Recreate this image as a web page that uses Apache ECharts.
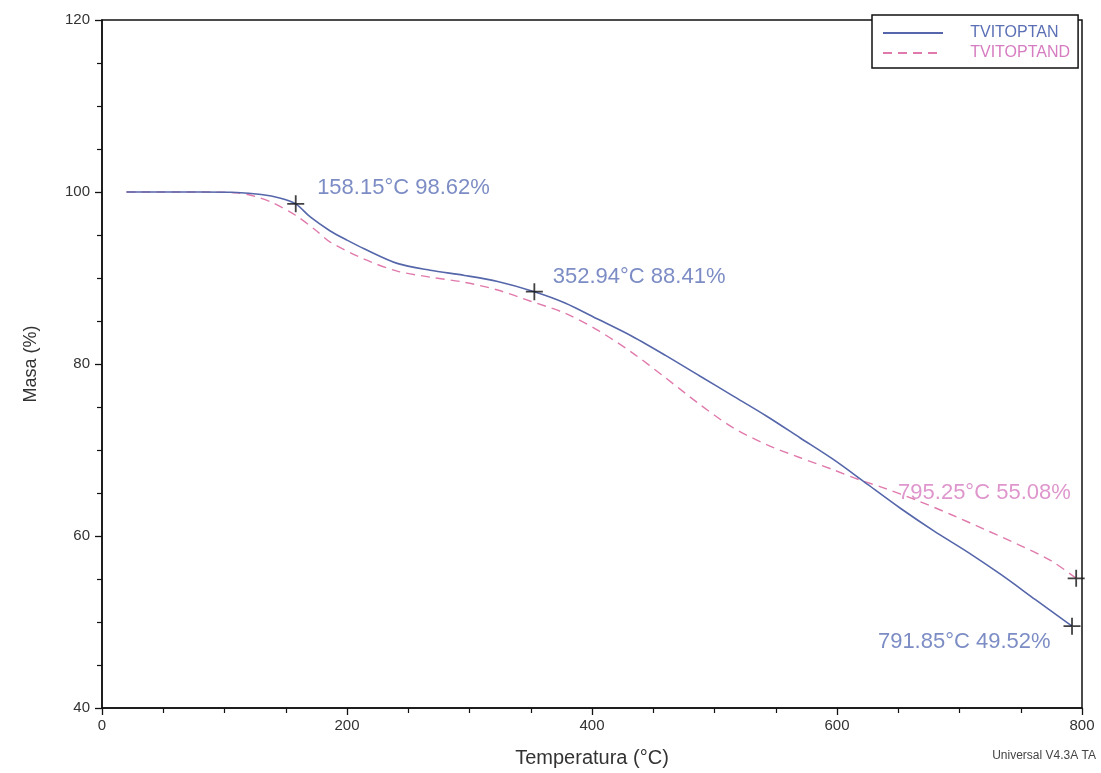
<!DOCTYPE html>
<html>
<head>
<meta charset="utf-8">
<script src="https://cdn.jsdelivr.net/npm/echarts@6/dist/echarts.min.js"></script>
<style>
html,body{margin:0;padding:0;background:#fff;}
#chart{width:1101px;height:773px;}
</style>
</head>
<body>
<div id="chart"></div>
<script>
// ---- data ----
const seriesNames = ['TVITOPTAN', 'TVITOPTAND'];
const tempA = [20, 50, 80, 110, 130, 145, 158.15, 170, 186, 200, 214, 241, 268, 296, 323, 352.94, 378, 405, 433, 460, 488, 515, 543, 570, 597, 625, 652, 679, 707, 734, 762, 791.85];
const massA = [100.0, 100.0, 100.0, 99.95, 99.7, 99.3, 98.62, 97.1, 95.5, 94.4, 93.4, 91.7, 90.9, 90.3, 89.6, 88.41, 87.1, 85.2, 83.2, 81.0, 78.6, 76.3, 73.9, 71.4, 68.9, 66.0, 63.2, 60.6, 58.1, 55.5, 52.6, 49.52];
const tempB = [20, 50, 80, 110, 125, 140, 158, 175, 186, 214, 241, 268, 296, 323, 350, 378, 405, 433, 460, 488, 515, 543, 570, 597, 619, 638, 666, 693, 720, 748, 775, 795.25];
const massB = [100.0, 100.0, 100.0, 99.9, 99.5, 98.7, 97.3, 95.5, 94.2, 92.2, 90.8, 90.1, 89.5, 88.6, 87.3, 85.9, 83.9, 81.3, 78.4, 75.3, 72.6, 70.6, 69.1, 67.7, 66.5, 65.6, 64.1, 62.5, 60.8, 59.0, 57.1, 55.08];
const markerTemp = [158.15, 352.94, 795.25, 791.85];
const markerMass = [98.62, 88.41, 55.08, 49.52];
const markerSeries = [0, 0, 1, 0];
const xTicks = [0, 200, 400, 600, 800];
const yTicks = [40, 60, 80, 100, 120];

// ---- style ----
const lineColors = ['#5566aa', '#e07aac'];
const labelColors = ['#5b6fb5', '#d67cc0'];
const labelPlacement = [
  {position: 'right', distance: 12, offset: [0, -16]},
  {position: 'right', distance: 9, offset: [0, -15]},
  {position: 'left', distance: -4, offset: [0, -85]},
  {position: 'left', distance: 12, offset: [0, 16]}
];
const FONT = '"Liberation Sans", Arial, sans-serif';

const pairs = (xs, ys) => xs.map((x, i) => [x, ys[i]]);

const markerData = markerTemp.map((t, i) => ({
  value: [t, markerMass[i]],
  label: {
    show: true,
    position: labelPlacement[i].position,
    distance: labelPlacement[i].distance,
    offset: labelPlacement[i].offset,
    color: labelColors[markerSeries[i]],
    fontSize: 22,
    fontFamily: FONT,
    formatter: t.toFixed(2) + '°C ' + markerMass[i].toFixed(2) + '%'
  }
}));

const axisCommon = {
  axisLine: {show: true, lineStyle: {color: '#111', width: 1.5}},
  axisTick: {show: true, inside: false, length: 7, lineStyle: {color: '#111', width: 1.3}},
  minorTick: {show: true, splitNumber: 4, length: 5, lineStyle: {color: '#111', width: 1.2}},
  splitLine: {show: false},
  minorSplitLine: {show: false},
  axisLabel: {color: '#333', fontSize: 15, fontFamily: FONT}
};

const chart = echarts.init(document.getElementById('chart'), null, {renderer: 'canvas'});
chart.setOption({
  backgroundColor: '#fff',
  animation: false,
  grid: {left: 102, right: 19, top: 20, bottom: 61, show: true, borderColor: '#111', borderWidth: 1.5, backgroundColor: 'transparent'},
  legend: {
    data: seriesNames.map((n, i) => ({name: n, textStyle: {color: labelColors[i]}})),
    orient: 'vertical',
    left: 872,
    top: 15,
    padding: [10, 8, 7, 10],
    itemWidth: 60,
    itemHeight: 14,
    itemGap: 4,
    backgroundColor: '#fff',
    borderColor: '#111',
    borderWidth: 1.5,
    borderRadius: 0,
    itemStyle: {opacity: 0},
    formatter: n => '     ' + n,
    textStyle: {fontSize: 16, fontFamily: FONT}
  },
  xAxis: Object.assign({}, axisCommon, {
    type: 'value',
    min: xTicks[0],
    max: xTicks[xTicks.length - 1],
    interval: xTicks[1] - xTicks[0],
    name: 'Temperatura (°C)',
    nameLocation: 'middle',
    nameGap: 40,
    nameTextStyle: {fontSize: 20, color: '#333', fontFamily: FONT},
    axisLabel: Object.assign({}, axisCommon.axisLabel, {margin: 10})
  }),
  yAxis: Object.assign({}, axisCommon, {
    type: 'value',
    min: yTicks[0],
    max: yTicks[yTicks.length - 1],
    interval: yTicks[1] - yTicks[0],
    name: 'Masa (%)',
    nameLocation: 'middle',
    nameGap: 62,
    nameTextStyle: {fontSize: 18, color: '#333', fontFamily: FONT},
    axisLabel: Object.assign({}, axisCommon.axisLabel, {margin: 12})
  }),
  series: [
    {
      name: seriesNames[0], type: 'line', data: pairs(tempA, massA),
      smooth: 0.3, symbol: 'none', color: lineColors[0],
      lineStyle: {color: lineColors[0], width: 1.6, type: 'solid'}, z: 3
    },
    {
      name: seriesNames[1], type: 'line', data: pairs(tempB, massB),
      smooth: 0.3, symbol: 'none', color: lineColors[1],
      lineStyle: {color: lineColors[1], width: 1.4, type: [9, 6]}, z: 2
    },
    {
      name: 'markers', type: 'scatter', data: markerData,
      symbol: 'path://M0 8 L16 8 M8 0 L8 16', symbolSize: 17,
      itemStyle: {color: '#111', borderColor: '#111', borderWidth: 1.8},
      z: 5, silent: true
    }
  ],
  graphic: [{
    type: 'text', right: 5, top: 750,
    style: {text: 'Universal V4.3A TA', fill: '#444', fontSize: 12, fontFamily: FONT}
  }]
});
</script>
</body>
</html>
